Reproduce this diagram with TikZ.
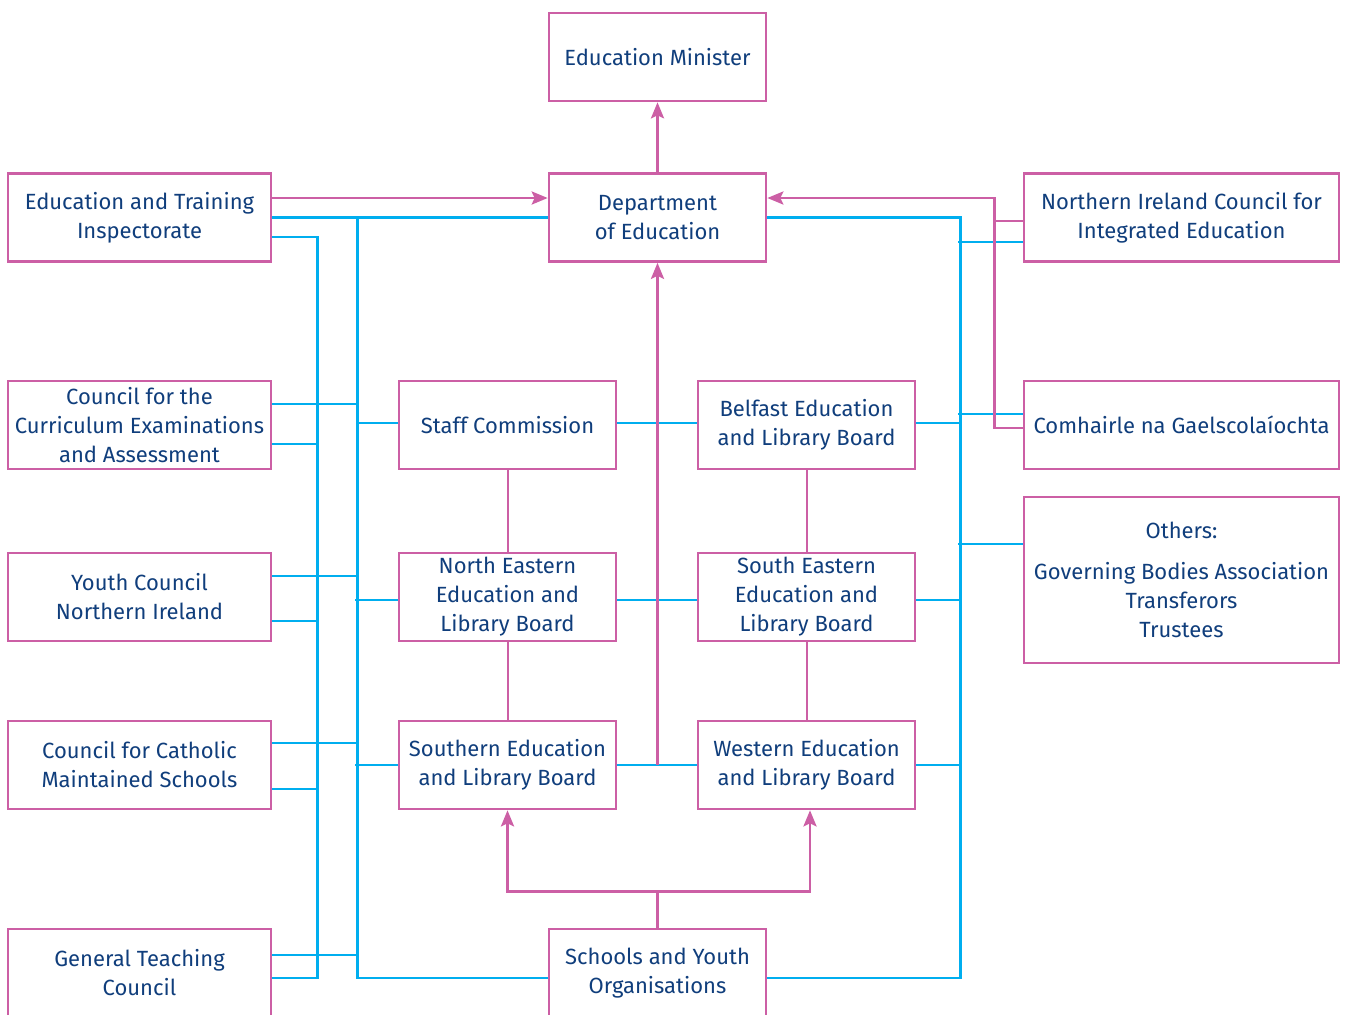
\documentclass[tikz,border=0pt]{standalone}
\usepackage{fontspec}
\setmainfont{Fira Sans}
\usetikzlibrary{positioning,calc,arrows.meta}
\definecolor{boxpink}{HTML}{CC5FA5}
\definecolor{linkblue}{HTML}{00AEEF}
\definecolor{textblue}{HTML}{103E7C}
\begin{document}
\begin{tikzpicture}[x=0.5pt,y=-0.5pt]
                    \tikzstyle{every node}=[font=\fontsize{11pt}{14.5pt}\selectfont]
                    \tikzstyle{box}=[draw=boxpink,fill=white,rectangle,line width=1.3pt,text=textblue,align=center,inner sep=0,minimum height=44pt,minimum width=108.5pt]
                    \tikzstyle{wide}=[box,minimum width=131.5pt]
                    \tikzstyle{wider}=[box,minimum width=157.5pt]
                    \tikzstyle{bline}=[draw=linkblue,line width=1.4pt]
                    \tikzstyle{thinb}=[draw=linkblue,line width=0.9pt]
                    \tikzstyle{mline}=[draw=boxpink,line width=1.4pt]
                    \tikzstyle{thinm}=[draw=boxpink,line width=1pt]
                    \tikzstyle{marrow}=[mline,-{Stealth[length=8pt,width=6.5pt,inset=1.5pt]}]
                    {
                        \useasboundingbox (0,0) rectangle (1348,1014);

                        % centre column
                        \node[box] (minister) at (657.5,57) {Education Minister};
                        \node[box] (doe) at (657.5,217.5) {Department\\of Education};
                        \node[box] (schools) at (657.5,973) {Schools and Youth\\Organisations};

                        % left column
                        \node[wide] (eti) at (139.5,217.5) {Education and Training\\Inspectorate};
                        \node[wide] (ccea) at (139.5,425) {Council for the\\Curriculum Examinations\\and Assessment};
                        \node[wide] (youth) at (139.5,597) {Youth Council\\Northern Ireland};
                        \node[wide] (ccms) at (139.5,765) {Council for Catholic\\Maintained Schools};
                        \node[wide] (gtc) at (139.5,973) {General Teaching\\Council};

                        % boards
                        \node[box] (staff) at (507.5,425) {Staff Commission};
                        \node[box] (belfast) at (806.5,425) {Belfast Education\\and Library Board};
                        \node[box] (northeast) at (507.5,597) {North Eastern\\Education and\\Library Board};
                        \node[box] (southeast) at (806.5,597) {South Eastern\\Education and\\Library Board};
                        \node[box] (southern) at (507.5,765) {Southern Education\\and Library Board};
                        \node[box] (western) at (806.5,765) {Western Education\\and Library Board};

                        % right column
                        \node[wider] (nicie) at (1181.5,217.5) {Northern Ireland Council for\\Integrated Education};
                        \node[wider] (comhairle) at (1181.5,425) {Comhairle na Gaelscolaíochta};
                        \node[wider,minimum height=83pt] (others) at (1181.5,580) {Others:\\[6pt]Governing Bodies Association\\Transferors\\Trustees};

                        % blue links, left side
                        \draw[bline] (eti.east) -- (doe.west);
                        \draw[bline] ($(eti.east)+(85,0)$) |- ($(schools.west)+(0,5)$);
                        \draw[bline] ($(eti.east)+(0,19.5)$) -| ($(gtc.east)+(45,5)$) -- ($(gtc.east)+(0,5)$);
                        \draw[bline] ($(ccea.east)+(0,-21)$) -- +(85,0);
                        \draw[bline] ($(ccea.east)+(0,19)$) -- +(45,0);
                        \draw[bline] ($(youth.east)+(0,-21)$) -- +(85,0);
                        \draw[bline] ($(youth.east)+(0,24)$) -- +(45,0);
                        \draw[bline] ($(ccms.east)+(0,-22)$) -- +(85,0);
                        \draw[bline] ($(ccms.east)+(0,24)$) -- +(45,0);
                        \draw[bline] ($(gtc.east)+(0,-18)$) -- +(85,0);
                        \draw[thinb] ($(staff.west)+(0,-2)$) -- +(-39,0);
                        \draw[bline] ($(northeast.west)+(0,3)$) -- +(-43,0);
                        \draw[bline] (southern.west) -- +(-43,0);

                        % blue links between the boards
                        \draw[thinb] ($(staff.east)+(0,-2)$) -- ($(belfast.west)+(0,-2)$);
                        \draw[bline] ($(northeast.east)+(0,3)$) -- ($(southeast.west)+(0,3)$);
                        \draw[bline] (southern.east) -- (western.west);

                        % blue links, right side
                        \draw[bline] (doe.east) -| ($(schools.east)+(193,5)$) -- ($(schools.east)+(0,5)$);
                        \draw[thinb] ($(belfast.east)+(0,-2)$) -- +(46,0);
                        \draw[bline] ($(southeast.east)+(0,3)$) -- +(44,0);
                        \draw[bline] (western.east) -- +(44,0);
                        \draw[bline] ($(nicie.west)+(0,24.5)$) -- +(-65,0);
                        \draw[bline] ($(comhairle.west)+(0,-11)$) -- +(-65,0);
                        \draw[bline] ($(others.west)+(0,-36)$) -- +(-65,0);

                        % pink links
                        \draw[marrow] (doe.north) -- (minister.south);
                        \draw[marrow] ($(eti.east)+(0,-19.5)$) -- ($(doe.west)+(0,-19.5)$);
                        \draw[marrow] ($(comhairle.west)+(0,3)$) -| ($(nicie.west)+(-28,-19.5)$) -- ($(doe.east)+(0,-19.5)$);
                        \draw[mline] ($(nicie.west)+(0,3.5)$) -- +(-28,0);
                        \draw[marrow] (doe.south |- southern.east) -- (doe.south);
                        \draw[thinm] (staff.south) -- (northeast.north);
                        \draw[thinm] (northeast.south) -- (southern.north);
                        \draw[thinm] (belfast.south) -- (southeast.north);
                        \draw[thinm] (southeast.south) -- (western.north);

                        \draw[mline] (schools.north) -- +(0,-36) coordinate (fork);
                        \draw[marrow] (fork) -| (southern.south);
                        \draw[marrow] (fork) -| ($(western.south)+(3.5,0)$);
                    }
\end{tikzpicture}
\end{document}
